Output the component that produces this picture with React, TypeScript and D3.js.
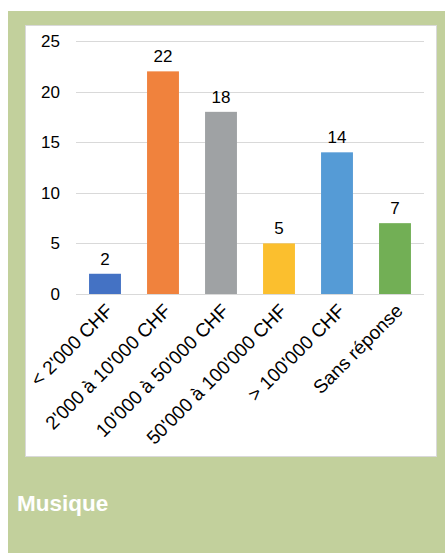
import React from "react";
import * as d3 from "d3";

const categories = ["< 2'000 CHF", "2'000 à 10'000 CHF", "10'000 à 50'000 CHF", "50'000 à 100'000 CHF", "> 100'000 CHF", "Sans réponse"];
const values = [2, 22, 18, 5, 14, 7];
const colors = ["#4472C4", "#F0823D", "#9FA2A4", "#FBBF2E", "#559BD6", "#72AF55"];
const yTicks = [0, 5, 10, 15, 20, 25];
const title = "Musique";

export default function App() {
  const W = 445, H = 553;
  const x = d3.scaleBand<string>().domain(categories).range([76, 424]).paddingInner(0.45).paddingOuter(0.225);
  const y = d3.scaleLinear().domain([0, 25]).range([294, 41]);
  const font = "Liberation Sans, Arial, sans-serif";
  return (
    <svg width={W} height={H} style={{ position: "absolute", left: 0, top: 0, display: "block" }}>
      <rect x={0} y={0} width={W} height={H} fill="#fff" />
      <rect x={8} y={11} width={W - 8} height={H - 11} fill="#C2D09C" />
      <rect x={25.5} y={25.5} width={411} height={431} fill="#fff" stroke="#D9D9D9" strokeWidth={1} />
      {yTicks.map((t) => (
        <g key={t}>
          <line x1={76} x2={424} y1={Math.round(y(t)) + 0.5} y2={Math.round(y(t)) + 0.5} stroke="#D9D9D9" strokeWidth={1} />
          <text x={60} y={y(t) + 6} textAnchor="end" fontFamily={font} fontSize={17} fill="#000">{t}</text>
        </g>
      ))}
      {categories.map((c, i) => {
        const bx = x(c)!;
        const cx = bx + x.bandwidth() / 2;
        return (
          <g key={c}>
            <rect x={bx} y={y(values[i])} width={x.bandwidth()} height={y(0) - y(values[i])} fill={colors[i]} />
            <text x={cx} y={y(values[i]) - 9} textAnchor="middle" fontFamily={font} fontSize={17} fill="#000">{values[i]}</text>
            <text transform={`translate(${cx + 9},${y(0) + 18}) rotate(-45)`} textAnchor="end" fontFamily={font} fontSize={19} fill="#000">{c}</text>
          </g>
        );
      })}
      <text x={17} y={511} fontFamily={font} fontSize={22.5} fontWeight="bold" fill="#fff">{title}</text>
    </svg>
  );
}
